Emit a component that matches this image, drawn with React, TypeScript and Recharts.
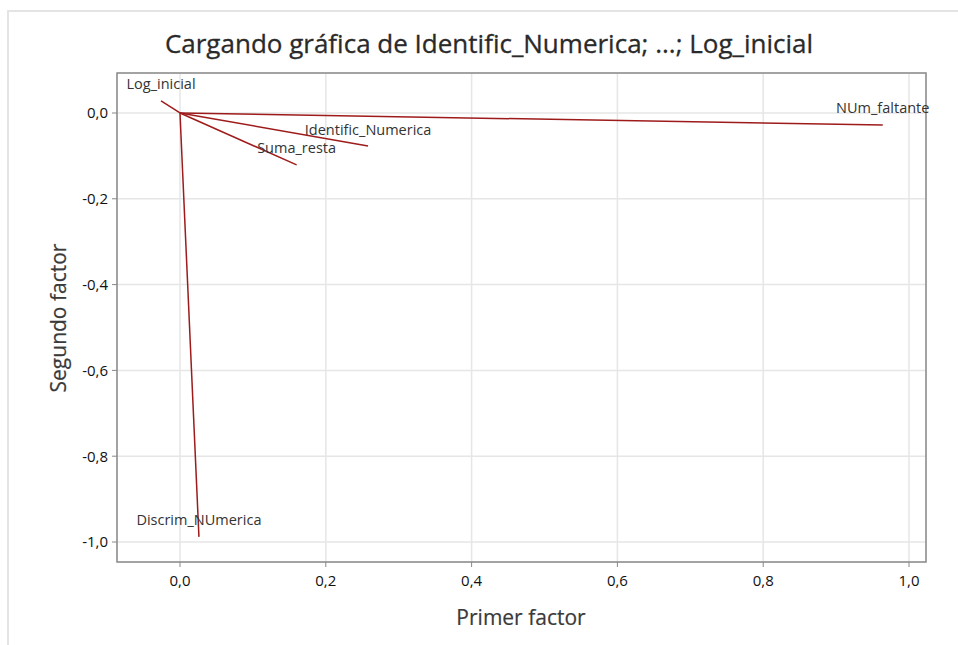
import React from "react";
import {
  ScatterChart,
  Scatter,
  XAxis,
  YAxis,
  CartesianGrid,
  ReferenceArea,
  LabelList,
} from "recharts";

// loadings
const variables = [
  "Log_inicial",
  "Identific_Numerica",
  "Suma_resta",
  "NUm_faltante",
  "Discrim_NUmerica",
];
const firstFactor = [-0.026, 0.258, 0.16, 0.964, 0.026];
const secondFactor = [0.028, -0.077, -0.121, -0.028, -0.988];

const xTicks = [0, 0.2, 0.4, 0.6, 0.8, 1.0];
const yTicks = [0, -0.2, -0.4, -0.6, -0.8, -1.0];

const X_DOMAIN: [number, number] = [-0.0864, 1.0233];
const Y_DOMAIN: [number, number] = [-1.0466, 0.0932];

const LINE = "#9e1b1b";
const FONT = "'Open Sans', 'Noto Sans', sans-serif";

const fmt = (v: number) => v.toFixed(1).replace(".", ",");

const endpoints = variables.map((name, i) => ({
  name,
  x: firstFactor[i],
  y: secondFactor[i],
}));

const NoDot = () => <g />;

export default function App() {
  return (
    <div style={{ position: "absolute", left: 0, top: 0, width: 958, height: 645, background: "#fff" }}>
      <div
        style={{
          position: "absolute",
          left: 7,
          top: 10,
          right: 0,
          bottom: 0,
          borderLeft: "2px solid #e4e4e4",
          borderTop: "2px solid #e4e4e4",
        }}
      />
      <div
        style={{
          position: "absolute",
          left: 0,
          width: 978,
          top: 25,
          textAlign: "center",
          fontFamily: FONT,
          fontSize: 26,
          color: "#2a2a2a",
          WebkitTextStroke: "0.3px #2a2a2a",
        }}
      >
        Cargando gráfica de Identific_Numerica; ...; Log_inicial
      </div>
      <div
        style={{
          position: "absolute",
          left: 421,
          width: 200,
          top: 603,
          textAlign: "center",
          fontFamily: FONT,
          fontSize: 21,
          color: "#3a3a3a",
          WebkitTextStroke: "0.2px #3a3a3a",
        }}
      >
        Primer factor
      </div>
      <div
        style={{
          position: "absolute",
          left: 58,
          top: 318,
          transform: "translate(-50%, -50%) rotate(-90deg)",
          whiteSpace: "nowrap",
          fontFamily: FONT,
          fontSize: 21,
          color: "#3a3a3a",
          WebkitTextStroke: "0.2px #3a3a3a",
        }}
      >
        Segundo factor
      </div>
      <div style={{ position: "absolute", left: 0, top: 0 }}>
        <ScatterChart
          width={958}
          height={645}
          margin={{ top: 73, right: 32, bottom: 43, left: 57 }}
        >
          <CartesianGrid stroke="#e6e6e6" strokeWidth={1.5} />
          <XAxis
            type="number"
            dataKey="x"
            domain={X_DOMAIN}
            ticks={xTicks}
            allowDataOverflow
            tickFormatter={fmt}
            height={40}
            axisLine={false}
            tickSize={5}
            tickMargin={8}
            tickLine={{ stroke: "#888" }}
            tick={{ fill: "#111", fontSize: 15, fontFamily: FONT }}
          />
          <YAxis
            type="number"
            dataKey="y"
            domain={Y_DOMAIN}
            ticks={yTicks}
            allowDataOverflow
            tickFormatter={fmt}
            width={60}
            axisLine={false}
            tickSize={5}
            tickMargin={4}
            tickLine={{ stroke: "#888" }}
            tick={{ fill: "#111", fontSize: 15, fontFamily: FONT }}
          />
          <ReferenceArea
            x1={X_DOMAIN[0]}
            x2={X_DOMAIN[1]}
            y1={Y_DOMAIN[0]}
            y2={Y_DOMAIN[1]}
            fill="none"
            stroke="#8a8a8a"
            strokeWidth={1.5}
          />
          {endpoints.map((p) => (
            <Scatter
              key={p.name}
              data={[{ x: 0, y: 0 }, { x: p.x, y: p.y }]}
              line={{ stroke: LINE, strokeWidth: 1.5 }}
              shape={NoDot}
              isAnimationActive={false}
            />
          ))}
          <Scatter data={endpoints} shape={NoDot} isAnimationActive={false}>
            <LabelList
              dataKey="name"
              position="top"
              offset={7}
              style={{ fill: "#333", fontSize: 14.5, fontFamily: FONT }}
            />
          </Scatter>
        </ScatterChart>
      </div>
    </div>
  );
}
